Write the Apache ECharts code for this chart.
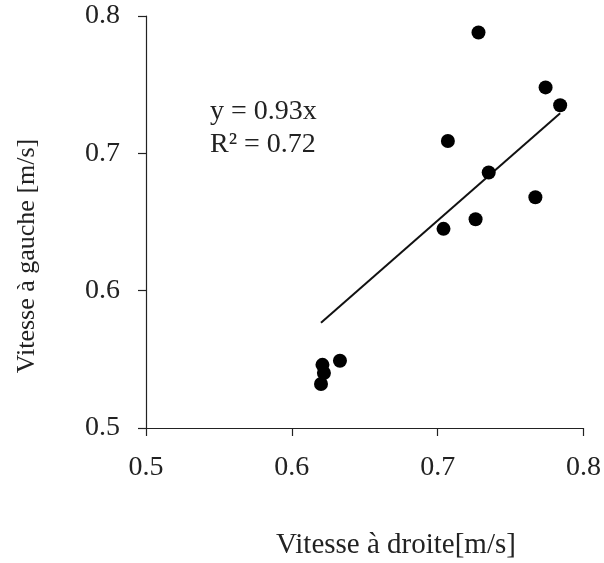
<!DOCTYPE html>
<html>
<head>
<meta charset="utf-8">
<script src="https://cdn.jsdelivr.net/npm/echarts@6/dist/echarts.min.js"></script>
<style>html,body{margin:0;padding:0;background:#fff}#c{width:604px;height:563px}</style>
</head>
<body>
<div id="c"></div>
<script>
// Data
const vitesseDroite = [0.728, 0.774, 0.784, 0.707, 0.735, 0.767, 0.726, 0.704, 0.633, 0.621, 0.622, 0.620];
const vitesseGauche = [0.788, 0.748, 0.735, 0.709, 0.686, 0.668, 0.652, 0.645, 0.549, 0.546, 0.540, 0.532];
const slope = 0.93;
const r2 = 0.72;
const xTicks = [0.5, 0.6, 0.7, 0.8];
const yTicks = [0.5, 0.6, 0.7, 0.8];
const xTitle = 'Vitesse à droite[m/s]';
const yTitle = 'Vitesse à gauche [m/s]';

const points = vitesseDroite.map((x, i) => [x, vitesseGauche[i]]);
const xMin = Math.min(...vitesseDroite), xMax = Math.max(...vitesseDroite);
const trend = [[xMin, slope * xMin], [xMax, slope * xMax]];

const font = '"Liberation Serif", "Times New Roman", serif';
const chart = echarts.init(document.getElementById('c'), null, {renderer: 'canvas'});
chart.setOption({
  animation: false,
  backgroundColor: '#fff',
  grid: {left: 146, right: 19, top: 16, bottom: 135},
  xAxis: {
    type: 'value', min: xTicks[0], max: xTicks[xTicks.length - 1], interval: 0.1,
    axisLine: {show: true, lineStyle: {color: '#222', width: 1.2}},
    axisTick: {show: true, length: 8, lineStyle: {color: '#222', width: 1.2}},
    splitLine: {show: false},
    axisLabel: {margin: 26, color: '#222', fontFamily: font, fontSize: 28,
      formatter: v => v.toFixed(1)}
  },
  yAxis: {
    type: 'value', min: yTicks[0], max: yTicks[yTicks.length - 1], interval: 0.1,
    axisLine: {show: true, lineStyle: {color: '#222', width: 1.2}},
    axisTick: {show: true, length: 8, lineStyle: {color: '#222', width: 1.2}},
    splitLine: {show: false},
    axisLabel: {margin: 26, color: '#222', fontFamily: font, fontSize: 28,
      formatter: v => v.toFixed(1)}
  },
  series: [
    {type: 'line', data: trend, symbol: 'none', lineStyle: {color: '#111', width: 2}, z: 1},
    {type: 'scatter', data: points, symbol: 'circle', symbolSize: 14,
     itemStyle: {color: '#000', opacity: 1}, z: 2}
  ],
  graphic: [
    {type: 'text', left: 210, top: 95, style: {
      text: 'y = ' + slope.toFixed(2) + 'x\nR² = ' + r2.toFixed(2),
      font: '28px ' + font, fill: '#222', lineHeight: 33}},
    {type: 'text', x: 396, y: 545, style: {
      text: xTitle, font: '29px ' + font, fill: '#222', align: 'center', verticalAlign: 'middle'}},
    {type: 'text', x: 27, y: 256, rotation: Math.PI / 2, style: {
      text: yTitle, font: '26px ' + font, fill: '#222', align: 'center', verticalAlign: 'middle'}}
  ]
});
</script>
</body>
</html>
